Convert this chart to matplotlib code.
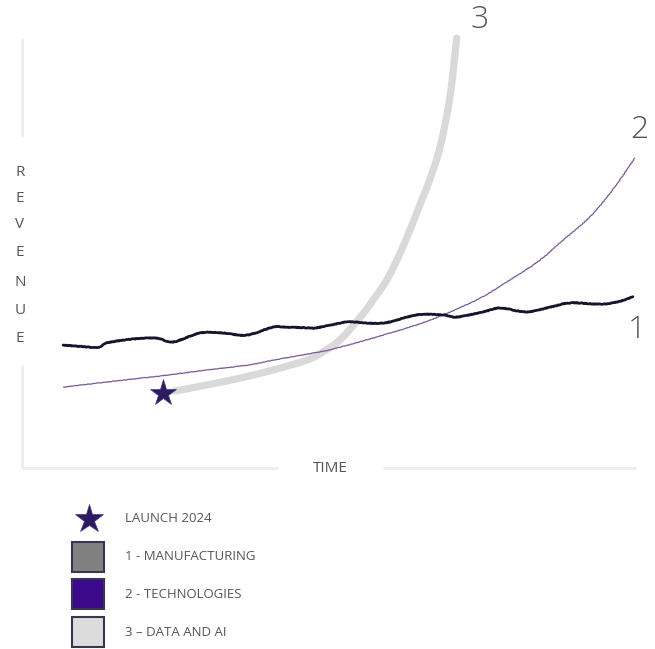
import matplotlib
matplotlib.use("Agg")
import matplotlib.pyplot as plt
from matplotlib.patches import Rectangle, PathPatch
from matplotlib.path import Path

# ---------------- data ----------------
t1 = [6.7, 11.1, 12.7, 13.8, 18.1, 22.0, 24.6, 29.0, 32.7, 36.6, 40.9, 42.5, 46.4, 48.0,
      51.8, 53.4, 58.8, 64.3, 68.6, 70.8, 75.1, 77.9, 82.2, 86.0, 89.3, 94.1, 96.9, 99.5]
r1 = [28.6, 28.1, 28.1, 29.1, 30.0, 30.2, 29.3, 31.4, 31.4, 30.9, 32.8, 32.8, 32.6, 32.6,
      33.7, 34.0, 33.7, 35.6, 35.6, 35.1, 36.3, 37.2, 36.3, 37.4, 38.4, 38.1, 38.6, 39.8]

t2 = [6.7, 13.8, 22.5, 30.1, 37.1, 40.9, 48.5, 51.8, 58.8, 64.3, 68.6, 74.6, 80.0, 84.4,
      88.1, 92.5, 96.2, 99.8]
r2 = [18.8, 20.0, 21.4, 22.8, 24.0, 25.1, 27.0, 28.1, 30.9, 33.3, 35.6, 39.5, 44.2, 48.4,
      53.0, 58.4, 64.7, 72.1]

t3 = [24.9, 30.1, 35.5, 40.9, 46.4, 49.0, 51.8, 55.0, 57.2, 59.4, 61.6, 63.7, 65.1, 66.4,
      68.1, 69.7, 70.8]
r3 = [17.9, 19.3, 20.9, 22.8, 25.1, 27.0, 29.8, 34.9, 39.1, 43.7, 50.0, 57.2, 62.3, 67.0,
      74.7, 86.3, 100.0]

launch_t = 23.0
launch_r = 17.4

series_labels = ["1", "2", "3"]
legend_labels = ["LAUNCH 2024", "1 - MANUFACTURING", "2 - TECHNOLOGIES", "3 \u2013 DATA AND AI"]
axis_x_label = "TIME"
axis_y_label = "REVENUE"

# ---------------- style ----------------
FONT = ["Open Sans", "DejaVu Sans"]
TXT = "#555555"
C1 = "#15152e"
C2 = "#7a5c9a"
C3 = "#d9d9d9"
STAR = "#2d1a63"
AXC = "#eeeeee"
SQ = ["#808080", "#3a0a8a", "#dcdcdc"]

plt.rcParams["font.family"] = FONT


def smooth_path(xs, ys):
    """Catmull-Rom curve through the given points, as cubic Bezier path."""
    pts = list(zip(xs, ys))
    n = len(pts)
    verts = [pts[0]]
    codes = [Path.MOVETO]
    for i in range(n - 1):
        p0 = pts[i - 1] if i > 0 else pts[i]
        p1 = pts[i]
        p2 = pts[i + 1]
        p3 = pts[i + 2] if i + 2 < n else pts[i + 1]
        c1 = (p1[0] + (p2[0] - p0[0]) / 6.0, p1[1] + (p2[1] - p0[1]) / 6.0)
        c2 = (p2[0] - (p3[0] - p1[0]) / 6.0, p2[1] - (p3[1] - p1[1]) / 6.0)
        verts += [c1, c2, p2]
        codes += [Path.CURVE4] * 3
    return Path(verts, codes)


fig = plt.figure(figsize=(6.55, 6.49), dpi=100)
fig.patch.set_facecolor("white")

L, R, B, T = 22, 636, 468, 38
W, H = 655, 649
ax = fig.add_axes([L / W, (H - B) / H, (R - L) / W, (B - T) / H])
ax.set_xlim(0, 100)
ax.set_ylim(0, 100)
ax.axis("off")

# broken axis lines
for xs_, ys_ in [([0, 0], [0, (B - 365) / (B - T)]),
                 ([0, 0], [(B - 137) / (B - T), 1.0]),
                 ([0, (278 - L) / (R - L)], [0, 0]),
                 ([(383 - L) / (R - L), 1.0], [0, 0])]:
    ax.plot(xs_, ys_, transform=ax.transAxes, color=AXC, lw=2.2, clip_on=False,
            solid_capstyle="butt")

# series
p3 = PathPatch(smooth_path(t3, r3), facecolor="none", edgecolor=C3, lw=5.2,
               capstyle="round", joinstyle="round", clip_on=False, zorder=2)
ax.add_patch(p3)
p2 = PathPatch(smooth_path(t2, r2), facecolor="none", edgecolor=C2, lw=0.9,
               joinstyle="round", clip_on=False, zorder=3)
p2.set_sketch_params(scale=0.3, length=2, randomness=2)
ax.add_patch(p2)
p1 = PathPatch(smooth_path(t1, r1), facecolor="none", edgecolor=C1, lw=2.0,
               joinstyle="round", capstyle="round", clip_on=False, zorder=4)
p1.set_sketch_params(scale=0.3, length=2, randomness=2)
ax.add_patch(p1)

ax.plot([launch_t], [launch_r], marker="*", markersize=20, color=STAR,
        markeredgecolor="#4a3a7a", markeredgewidth=0.5, zorder=5, clip_on=False)

# end labels
ax.annotate(series_labels[0], (t1[-1], r1[-1]), xytext=(4, -33), textcoords="offset pixels",
            ha="center", va="center", fontsize=23, color=TXT, fontweight="light")
ax.annotate(series_labels[1], (t2[-1], r2[-1]), xytext=(5, 28), textcoords="offset pixels",
            ha="center", va="center", fontsize=23, color=TXT, fontweight="light")
ax.annotate(series_labels[2], (t3[-1], r3[-1]), xytext=(23, 18), textcoords="offset pixels",
            ha="center", va="center", fontsize=23, color=TXT, fontweight="light")

# axis labels
ax.text((330 - L) / (R - L), 0, axis_x_label, transform=ax.transAxes, ha="center",
        va="center", fontsize=11, color=TXT)
ys = [172, 198, 225, 253, 282, 310, 338]
for ch, yp in zip(axis_y_label, ys):
    ax.text((20 - L) / (R - L), (B - yp) / (B - T), ch, transform=ax.transAxes,
            ha="center", va="center", fontsize=11, color=TXT)

# legend (drawn in pixel space)
lax = fig.add_axes([0, 0, 1, 1])
lax.set_xlim(0, W)
lax.set_ylim(H, 0)
lax.axis("off")
lax.patch.set_alpha(0)

rows = [519, 557, 594, 632]
lax.plot([89], [rows[0]], marker="*", markersize=21, color=STAR,
         markeredgecolor="#4a3a7a", markeredgewidth=0.5)
for i, col in enumerate(SQ):
    yc = rows[i + 1]
    lax.add_patch(Rectangle((72, yc - 15), 32, 30, facecolor=col, edgecolor="#3a3552",
                            lw=1.5))
for lab, yc in zip(legend_labels, rows):
    lax.text(125, yc, lab, ha="left", va="center", fontsize=9.5, color=TXT)

fig.savefig("out.png", dpi=100, facecolor="white")
